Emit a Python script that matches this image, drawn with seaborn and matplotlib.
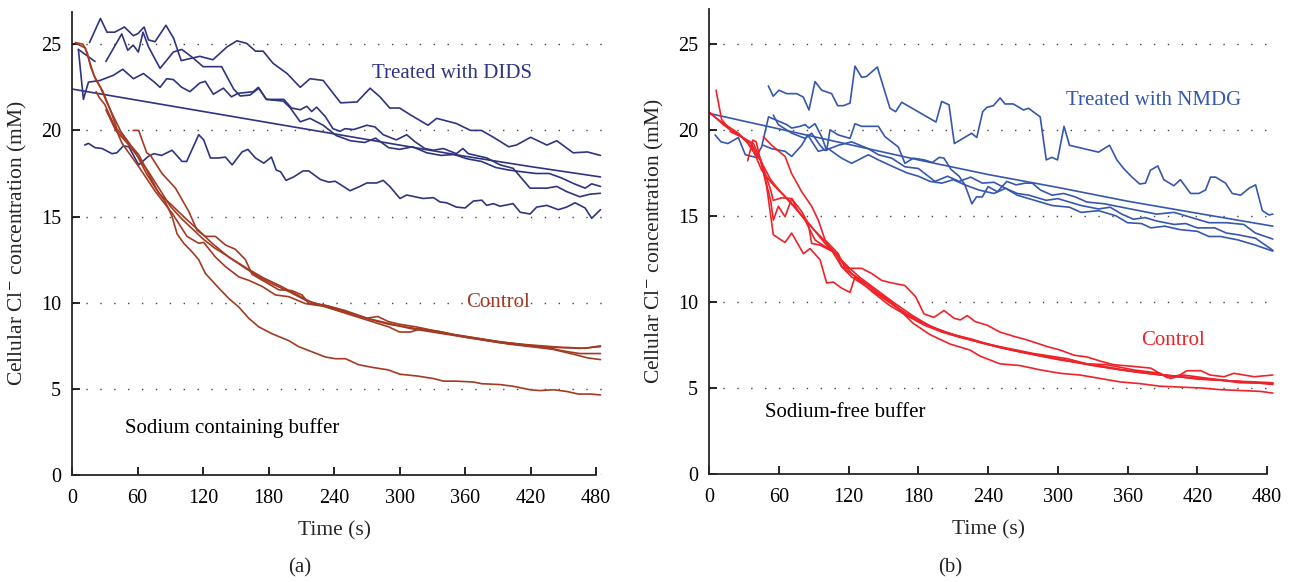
import numpy as np
import seaborn as sns
import matplotlib.pyplot as plt

# ---- panel (a): sodium containing buffer, (time s, Cl- mM) ----
dids_1 = [(16, 25.1), (26, 26.5), (32, 25.7), (39, 25.7), (48, 26.0), (56, 25.5), (60, 25.6), (66, 26.0),
          (70, 25.25), (76, 25.15), (86, 26.1), (93, 25.35), (100, 24.05), (117, 24.3), (129, 24.1),
          (142, 24.85), (151, 25.2), (160, 25.05), (168, 24.6), (175, 24.6), (184, 23.9), (197, 23.3),
          (209, 22.5), (218, 23.0), (230, 22.9), (246, 21.6), (261, 21.65), (273, 22.45), (282, 21.95),
          (291, 21.3), (300, 21.3), (310, 20.9), (326, 20.3), (334, 20.7), (352, 20.4), (365, 20.0),
          (375, 20.0), (386, 19.6), (400, 19.05), (407, 19.15), (420, 19.6), (435, 19.15), (444, 19.4),
          (459, 18.7), (472, 18.75), (484, 18.55)]
dids_2a = [(5.8, 24.7), (21, 24.0)]
dids_2 = [(31, 24.0), (45.5, 25.6), (51, 24.65), (56, 24.95), (60.7, 24.55), (65, 25.7), (70, 24.85),
          (80.6, 23.6), (92.8, 24.55), (100.5, 24.7), (111, 24.2), (120, 23.7), (137, 23.7), (148, 22.4),
          (154, 22.0), (163, 22.05), (171, 22.45), (178, 21.8), (194, 21.8), (201, 21.3), (209, 21.2),
          (215, 21.4), (219.5, 21.1), (224, 21.35), (232, 20.8), (239, 20.1), (245.5, 19.95), (250, 20.1),
          (258, 20.05), (270, 20.3), (277.5, 20.2), (285, 19.75), (297, 19.45), (306.5, 19.75),
          (314, 19.35), (323, 18.95), (331, 18.85), (340, 18.95), (352, 18.65), (358, 18.95), (363, 18.65),
          (380, 18.4), (392, 18.0), (404, 17.8), (419.5, 16.65), (435, 16.65), (444, 16.75), (453, 16.45),
          (465, 16.15), (474.5, 16.3), (484, 16.35)]
dids_3 = [(5.8, 24.7), (10.4, 21.8), (15, 22.8), (25.6, 22.9), (37.9, 23.2), (46.4, 23.55), (56.2, 23.0),
          (65.4, 23.3), (74.5, 22.85), (80.6, 22.5), (86.7, 23.0), (92.8, 22.95), (100.5, 22.5), (108, 22.25),
          (117, 22.75), (122, 22.85), (129.4, 22.1), (138.6, 22.45), (146, 21.95), (152, 22.15), (166, 22.25),
          (170.6, 22.5), (178, 21.8), (193.5, 21.7), (200, 21.3), (209, 20.5), (218, 20.7), (230, 20.3),
          (242, 19.7), (255, 19.4), (268, 19.3), (278, 19.55), (290, 19.0), (300, 18.9), (312, 19.05),
          (325, 18.7), (338, 18.55), (350, 18.6), (362, 18.35), (375, 18.2), (388, 17.85), (400, 17.7),
          (412, 17.6), (425, 17.5), (437, 17.5), (448, 17.25), (460, 16.9), (470, 16.65), (476, 16.9),
          (484, 16.75)]
dids_4 = [(11.6, 19.15), (15, 19.25), (21, 19.0), (27.5, 18.95), (36.6, 18.65), (41, 18.7), (47, 19.1),
          (52, 19.05), (61, 18.0), (70, 18.5), (75, 18.65), (82, 18.55), (91.6, 18.85), (100.8, 18.2),
          (105, 18.2), (116, 19.75), (120.6, 19.45), (126.7, 18.4), (134, 18.4), (140.5, 18.45),
          (146.6, 18.0), (155.7, 18.75), (161, 18.9), (168, 18.4), (175.6, 18.1), (182.6, 18.45), (187, 17.7),
          (191, 17.6), (196, 17.1), (203, 17.3), (211.6, 17.65), (216.8, 17.65), (227.5, 17.15), (235, 17.0),
          (241, 17.05), (246, 16.85), (254.6, 16.5), (263.7, 16.75), (270, 16.95), (279, 16.95), (285, 17.1),
          (291, 16.75), (300.4, 16.05), (306.5, 16.25), (314, 16.15), (321.7, 16.05), (331, 16.1), (337, 15.85),
          (343, 15.8), (352, 15.55), (360, 15.5), (367.6, 15.9), (375.3, 15.95), (379.8, 15.65), (386, 15.75),
          (392, 15.6), (404, 15.75), (410.5, 15.25), (419.5, 15.15), (425.6, 15.55), (434.8, 15.65),
          (445.4, 15.4), (453, 15.55), (460.7, 15.8), (469.9, 15.5), (476, 14.9), (484, 15.4)]
dids_fit = [(0, 22.4), (60, 21.75), (120, 21.1), (180, 20.45), (240, 19.8), (300, 19.15), (360, 18.5),
            (420, 17.9), (484, 17.3)]

ctrl_a1 = [(5, 25.0), (12, 24.8), (16, 24.0), (20, 23.2), (26, 22.5), (32, 21.6), (38, 20.8), (45, 19.9),
           (52, 19.3), (60, 18.5), (68, 17.5), (76, 16.7), (85.5, 15.85), (91.6, 15.0), (96.2, 14.0),
           (102.3, 13.45), (109.9, 12.95), (116, 12.5), (122.1, 11.7), (134.4, 10.85), (143.5, 10.25),
           (152.7, 9.75), (161.8, 9.1), (171, 8.6), (183.2, 8.2), (198.5, 7.8), (207.6, 7.45), (219.8, 7.15),
           (232, 6.85), (241.2, 6.75), (250.4, 6.75), (262.6, 6.4), (274.8, 6.25), (289.7, 6.1), (300.4, 5.85),
           (315.7, 5.75), (331, 5.6), (340.1, 5.45), (350.8, 5.45), (367.6, 5.4), (375.2, 5.3), (392, 5.25),
           (404.2, 5.15), (419.5, 4.95), (428.7, 4.9), (440.9, 4.95), (453.1, 4.85), (463.8, 4.7),
           (474.5, 4.7), (484, 4.65)]
ctrl_a2 = [(56, 20.0), (61, 20.0), (68.4, 18.7), (71.8, 18.55), (82.4, 17.5), (94.7, 16.65), (106.9, 15.3),
           (114.5, 14.2), (122.1, 13.85), (131.3, 13.85), (140.5, 13.35), (149.6, 13.1), (158.8, 12.5),
           (164.9, 11.65), (177.1, 11.2), (189.3, 10.75), (201.5, 10.7), (210.7, 10.45), (216.8, 9.95),
           (232, 9.85), (250, 9.55), (270, 9.1), (280, 9.2), (290, 8.9), (300, 8.75), (315, 8.6), (330, 8.4),
           (350, 8.15), (370, 7.95), (390, 7.75), (410, 7.6), (430, 7.5), (450, 7.4), (465, 7.35), (484, 7.45)]
ctrl_a3 = [(22, 22.25), (25, 21.9), (30, 21.5), (35, 20.8), (40, 20.1), (45.8, 19.25), (61, 17.9),
           (76.3, 16.45), (91.6, 15.2), (105.3, 13.85), (116, 13.45), (120.6, 13.5), (131.3, 12.65),
           (140.5, 12.1), (152.7, 11.5), (161.8, 11.3), (174, 10.95), (186.3, 10.45), (198.5, 10.35),
           (213.7, 9.95), (230, 9.8), (250, 9.4), (270, 9.0), (290, 8.6), (300, 8.3), (310, 8.3), (320, 8.5),
           (340, 8.25), (360, 8.0), (380, 7.8), (400, 7.6), (420, 7.45), (440, 7.3), (460, 7.0), (472, 6.8),
           (484, 6.7)]
ctrl_a4 = [(3, 25.1), (10, 25.0), (14, 24.5), (17, 23.7), (22, 22.9), (28, 22.3), (35, 21.2), (41, 20.1),
           (50, 19.4), (61, 18.6), (70, 17.5), (79.4, 16.35), (91.6, 15.65), (103.8, 14.9), (116, 14.2),
           (128.2, 13.45), (143.5, 12.65), (158.8, 12.0), (171, 11.5), (183.2, 11.1), (198.5, 10.65),
           (213.7, 10.15), (229, 9.85), (244.3, 9.55), (259.5, 9.3), (274.8, 9.0), (290, 8.75), (305, 8.6),
           (320, 8.45), (335, 8.35), (350, 8.15), (365, 8.0), (380, 7.85), (395, 7.7), (410, 7.6), (425, 7.45),
           (440, 7.4), (455, 7.4), (470, 7.35), (484, 7.5)]
ctrl_a5 = [(31, 21.2), (40, 20.0), (50, 19.3), (60, 18.5), (70, 17.6), (80, 16.6), (90, 15.6), (100, 14.9),
           (110, 14.3), (120, 13.7), (130, 13.2), (145, 12.6), (160, 12.0), (175, 11.45), (190, 11.0),
           (205, 10.5), (220, 10.0), (235, 9.8), (250, 9.5), (270, 9.1), (290, 8.8), (310, 8.5), (330, 8.3),
           (350, 8.1), (370, 7.9), (390, 7.7), (410, 7.55), (430, 7.45), (450, 7.2), (465, 7.05), (484, 7.05)]

# ---- panel (b): sodium-free buffer ----
nmdg_1 = [(50.8, 22.55), (55, 21.95), (60, 22.3), (66.6, 22.1), (75.2, 22.1), (80.9, 21.9), (85.8, 21.15),
          (91, 22.8), (96.7, 22.3), (105.3, 22.1), (110.5, 21.4), (115.4, 21.4), (121.1, 21.55), (125.4, 23.7),
          (131.1, 23.05), (135.4, 23.1), (144.6, 23.65), (149.8, 22.5), (155.5, 21.25), (160.4, 21.05),
          (165.6, 21.6), (195.1, 20.45), (200, 21.65), (206.3, 21.45), (210.9, 19.2), (225.8, 19.8),
          (230.2, 19.55), (235.3, 21.05), (238.8, 21.3), (244.5, 21.4), (250.3, 21.85), (254.5, 21.5),
          (261.7, 21.5), (270.4, 21.15), (274.7, 21.25), (284.8, 20.75), (290, 18.25), (294.8, 18.4),
          (299.7, 18.25), (305.3, 20.2), (310, 19.1), (335, 18.7), (344.5, 19.1), (350.8, 18.25),
          (356.6, 17.75), (363.8, 17.25), (370.5, 16.85), (375.4, 16.9), (379.7, 17.65), (386, 17.9),
          (391.2, 17.1), (399.8, 16.75), (405.5, 17.1), (414.2, 16.3), (421.4, 16.3), (427.1, 16.5),
          (431.4, 17.25), (435.7, 17.25), (444.3, 16.9), (450.1, 16.3), (457.3, 16.2), (464.5, 16.6),
          (470.2, 16.8), (476, 15.3), (481.7, 15.05), (485, 15.1)]
nmdg_2 = [(5, 19.7), (10, 19.3), (16, 19.2), (25, 19.55), (31, 18.55), (40, 18.4), (45, 19.0), (51, 20.75),
          (58, 20.55), (66.6, 20.3), (71, 20.1), (78.1, 20.2), (82.4, 20.3), (85.8, 20.1), (91, 20.35),
          (96.7, 19.6), (101, 18.8), (103.9, 20.0), (111, 19.7), (121.1, 19.5), (125.4, 20.35), (131.1, 20.2),
          (145.5, 20.2), (151.2, 19.6), (162.7, 19.0), (168.4, 18.05), (175.6, 18.35), (185, 18.25),
          (192, 18.1), (198, 18.4), (202, 18.35), (208, 17.7), (215, 17.3), (220, 16.8), (226, 15.7),
          (230, 16.1), (235, 16.1), (240, 16.7), (248, 16.4), (256, 17.0), (264, 16.8), (272, 16.9),
          (278, 16.9), (285, 16.5), (295, 16.2), (305, 16.3), (315, 16.1), (325, 15.8), (340, 15.7),
          (355, 15.5), (370, 15.3), (385, 15.1), (400, 15.2), (415, 14.9), (430, 14.6), (445, 14.6),
          (460, 14.5), (470, 14.0), (485, 13.65)]
nmdg_3 = [(55.1, 20.85), (59.4, 20.3), (71, 19.8), (82.4, 19.5), (88.1, 19.8), (95.3, 19.1), (99.6, 18.8),
          (111, 19.1), (122.5, 19.3), (136.9, 18.9), (145.5, 18.55), (157, 18.35), (168.4, 17.85),
          (179.9, 17.75), (194.2, 17.0), (205, 17.3), (215, 17.0), (225, 17.25), (235, 16.9), (245, 16.95),
          (255, 16.6), (265, 16.3), (275, 16.2), (290, 15.9), (300, 16.0), (310, 15.8), (320, 15.6),
          (335, 15.4), (345, 15.5), (355, 15.1), (365, 14.8), (375, 14.9), (385, 14.7), (400, 14.5),
          (410, 14.55), (420, 14.3), (435, 14.3), (445, 14.0), (455, 13.9), (470, 13.7), (485, 13.0)]
nmdg_4 = [(46.5, 19.1), (53.7, 18.9), (65.2, 18.75), (70.9, 18.45), (79.5, 19.1), (84.7, 19.7), (93.8, 18.75),
          (102.4, 18.9), (113.9, 18.35), (122.5, 18.05), (136.9, 18.55), (145.5, 18.25), (160, 17.8),
          (170, 17.5), (180, 17.3), (190, 17.0), (200, 16.9), (210, 17.1), (220, 16.8), (232, 16.5),
          (245, 16.3), (255, 16.6), (265, 16.2), (280, 15.9), (295, 15.6), (310, 15.5), (320, 15.2),
          (335, 15.3), (350, 15.0), (360, 14.6), (372, 14.55), (380, 14.3), (392, 14.4), (405, 14.2),
          (420, 14.1), (430, 13.8), (440, 13.8), (455, 13.6), (470, 13.3), (485, 12.95)]
nmdg_fit = [(0, 20.95), (60, 20.05), (120, 19.15), (180, 18.25), (240, 17.4), (300, 16.65), (360, 15.85),
            (420, 15.15), (485, 14.4)]

ctrl_b1 = [(0.6, 20.95), (10.6, 20.45), (25, 19.8), (36.5, 19.0), (45.1, 17.65), (53.7, 16.9), (65.2, 16.1),
           (76.6, 15.25), (88.1, 14.35), (99.6, 13.4), (111, 12.6), (122.5, 11.65), (134, 11.1), (145.5, 10.5),
           (157, 10.0), (165, 9.45), (175.6, 8.75), (189.9, 8.1), (207.2, 7.55), (224.4, 7.2), (233, 6.85),
           (250.2, 6.4), (267.5, 6.3), (284.7, 6.05), (301.9, 5.85), (319.1, 5.75), (336.4, 5.55),
           (353.6, 5.35), (370.8, 5.25), (388, 5.1), (405.3, 5.05), (422.5, 5.0), (439.7, 4.9), (456.9, 4.85),
           (474.2, 4.8), (485, 4.7)]
ctrl_b2 = [(46.5, 19.6), (53.7, 19.1), (65.2, 18.45), (70.9, 17.45), (79.5, 16.4), (88.1, 15.55), (93.8, 14.75),
           (99.6, 13.6), (105.3, 13.2), (111, 12.8), (116.8, 11.95), (131.1, 11.95), (139.7, 11.65),
           (148.3, 11.25), (157, 11.1), (168.4, 10.95), (177.6, 10.3), (184.8, 9.3), (193.4, 9.1), (202, 9.5),
           (210.6, 9.05), (216, 8.95), (222, 9.2), (229, 8.85), (239, 8.65), (250, 8.25), (262, 8.0),
           (273, 7.8), (291, 7.4), (302, 7.2), (314, 6.9), (325, 6.8), (337, 6.55), (348, 6.35), (365, 6.25),
           (380, 6.15), (394, 5.6), (405, 5.75), (411, 6.0), (423, 6.0), (431, 5.75), (443, 5.65),
           (451.5, 5.85), (469, 5.65), (485, 5.75)]
ctrl_b3 = [(5.8, 22.3), (10.6, 20.6), (17.8, 20.0), (25, 19.75), (32.2, 19.3), (40.8, 18.45), (44.2, 18.25),
           (52.8, 16.5), (55.1, 15.9), (62.3, 16.05), (70.9, 16.0), (76.6, 15.25), (82.4, 14.75), (91, 13.6),
           (95.3, 13.4), (105.3, 13.0), (113.9, 12.05), (122.5, 11.45), (135, 10.9), (150, 10.2), (165, 9.5),
           (180, 8.9), (195, 8.45), (210, 8.1), (225, 7.85), (240, 7.55), (260, 7.2), (280, 6.95), (300, 6.7),
           (320, 6.45), (340, 6.25), (360, 6.0), (380, 5.85), (400, 5.7), (420, 5.55), (440, 5.45),
           (460, 5.35), (485, 5.25)]
ctrl_b4 = [(0.6, 21.0), (12, 20.3), (20, 19.9), (28, 19.6), (36, 19.2), (44.2, 18.2), (52.8, 15.9),
           (55.1, 14.75), (59.4, 15.55), (65.2, 14.95), (70.9, 16.0), (79.5, 15.25), (85.2, 14.55), (88.1, 13.4),
           (95.3, 13.3), (103.9, 13.0), (109.6, 12.8), (113.9, 12.05), (125, 11.5), (140, 10.8), (155, 10.0),
           (170, 9.3), (185, 8.75), (200, 8.3), (215, 8.0), (230, 7.7), (250, 7.35), (270, 7.05), (290, 6.8),
           (310, 6.55), (330, 6.3), (350, 6.1), (370, 5.9), (390, 5.75), (410, 5.6), (430, 5.5), (450, 5.4),
           (470, 5.3), (485, 5.2)]
ctrl_b5 = [(18, 19.9), (30, 19.5), (38, 19.2), (44.2, 18.25), (49.4, 16.7), (55.1, 13.9), (65.2, 13.45),
           (70.9, 14.0), (81, 12.8), (86.7, 13.1), (95.3, 12.45), (101, 11.1), (106.8, 11.15), (113.9, 10.8),
           (121.1, 10.55), (125.4, 11.45), (140, 10.6), (155, 9.8), (170, 9.2), (185, 8.65), (200, 8.25),
           (215, 7.95), (230, 7.7), (250, 7.4), (279, 7.0), (308, 6.7), (325, 6.4), (342, 6.35), (365, 6.05),
           (388, 5.85), (397, 5.55), (408, 5.75), (430, 5.55), (450, 5.4), (470, 5.35), (485, 5.3)]
ctrl_b6 = [(33, 18.2), (37.5, 19.4), (40.4, 19.3), (44.2, 18.2), (52.8, 17.1), (60, 16.5), (70, 15.8),
           (80, 15.0), (90, 14.2), (100, 13.5), (110, 12.7), (120, 12.0), (130, 11.4), (140, 10.9), (150, 10.4),
           (160, 9.9), (175, 9.2), (190, 8.6), (205, 8.2), (220, 7.9), (235, 7.6), (250, 7.35), (265, 7.15),
           (285, 6.85), (300, 6.65), (320, 6.45), (336, 6.25), (354, 6.05), (371, 5.9), (388, 5.75),
           (405, 5.65), (422, 5.5), (440, 5.45), (457, 5.3), (474, 5.28), (485, 5.25)]

x_ticks = [0, 60, 120, 180, 240, 300, 360, 420, 480]
y_ticks = [0, 5, 10, 15, 20, 25]

navy = "#2e3480"
brown = "#a33a22"
blue = "#3557ae"
red = "#ee2228"

sns.set_style("ticks")
plt.rcParams["font.family"] = ["Liberation Serif", "DejaVu Serif"]
plt.rcParams["mathtext.fontset"] = "stix"

fig = plt.figure(figsize=(12.96, 5.82), dpi=100)
ax_a = fig.add_axes([0.0556, 0.1838, 0.4094, 0.7964])
ax_b = fig.add_axes([0.5473, 0.1856, 0.4357, 0.7984])


def draw(ax, curves, color):
    for c in curves:
        arr = np.array(c)
        sns.lineplot(x=arr[:, 0], y=arr[:, 1], ax=ax, color=color, lw=1.2, estimator=None, sort=False)


draw(ax_a, [dids_1, dids_2a, dids_2, dids_3, dids_4, dids_fit], navy)
draw(ax_a, [ctrl_a1, ctrl_a2, ctrl_a3, ctrl_a4, ctrl_a5], brown)
draw(ax_b, [nmdg_1, nmdg_2, nmdg_3, nmdg_4, nmdg_fit], blue)
draw(ax_b, [ctrl_b1, ctrl_b2, ctrl_b3, ctrl_b4, ctrl_b5, ctrl_b6], red)

for ax, top in [(ax_a, 26.9), (ax_b, 27.0)]:
    ax.set_xlim(0, 486)
    ax.set_ylim(0, top)
    ax.set_xticks(x_ticks)
    ax.set_yticks(y_ticks)
    ax.spines["top"].set_visible(False)
    ax.spines["right"].set_visible(False)
    ax.spines["bottom"].set_bounds(0, 480)
    for s in ["left", "bottom"]:
        ax.spines[s].set_linewidth(1.3)
    ax.tick_params(direction="in", length=6, width=1.2, labelsize=14.5, colors="black")
    ax.tick_params(axis="x", pad=10)
    ax.tick_params(axis="y", pad=8)
    ax.yaxis.grid(True, color="#444444", linestyle=(0, (1, 9)), linewidth=1.0)
    ax.set_axisbelow(True)
    ax.set_xlabel("Time (s)", fontsize=15.5)
    ax.set_ylabel("Cellular Cl$^{-}$ concentration (mM)", fontsize=15.5)
    ax.xaxis.set_label_coords(240 / 486, -0.1)

ax_a.yaxis.set_label_coords(-0.082, 0.5)
ax_b.yaxis.set_label_coords(-0.076, 0.5)

ax_a.text(348, 23.3, "Treated with DIDS", color=navy, fontsize=15, ha="center", va="center")
ax_a.text(390, 10.0, "Control", color=brown, fontsize=15, ha="center", va="center")
ax_a.text(147, 2.7, "Sodium containing buffer", color="black", fontsize=15, ha="center", va="center")
ax_b.text(382, 21.7, "Treated with NMDG", color=blue, fontsize=15, ha="center", va="center")
ax_b.text(399, 7.75, "Control", color=red, fontsize=15, ha="center", va="center")
ax_b.text(117, 3.6, "Sodium-free buffer", color="black", fontsize=15, ha="center", va="center")

fig.text(300 / 1296, 1 - 568 / 582, "(a)", fontsize=15, ha="center", va="center")
fig.text(950 / 1296, 1 - 568 / 582, "(b)", fontsize=15, ha="center", va="center")

fig.savefig("out.png", dpi=100)
